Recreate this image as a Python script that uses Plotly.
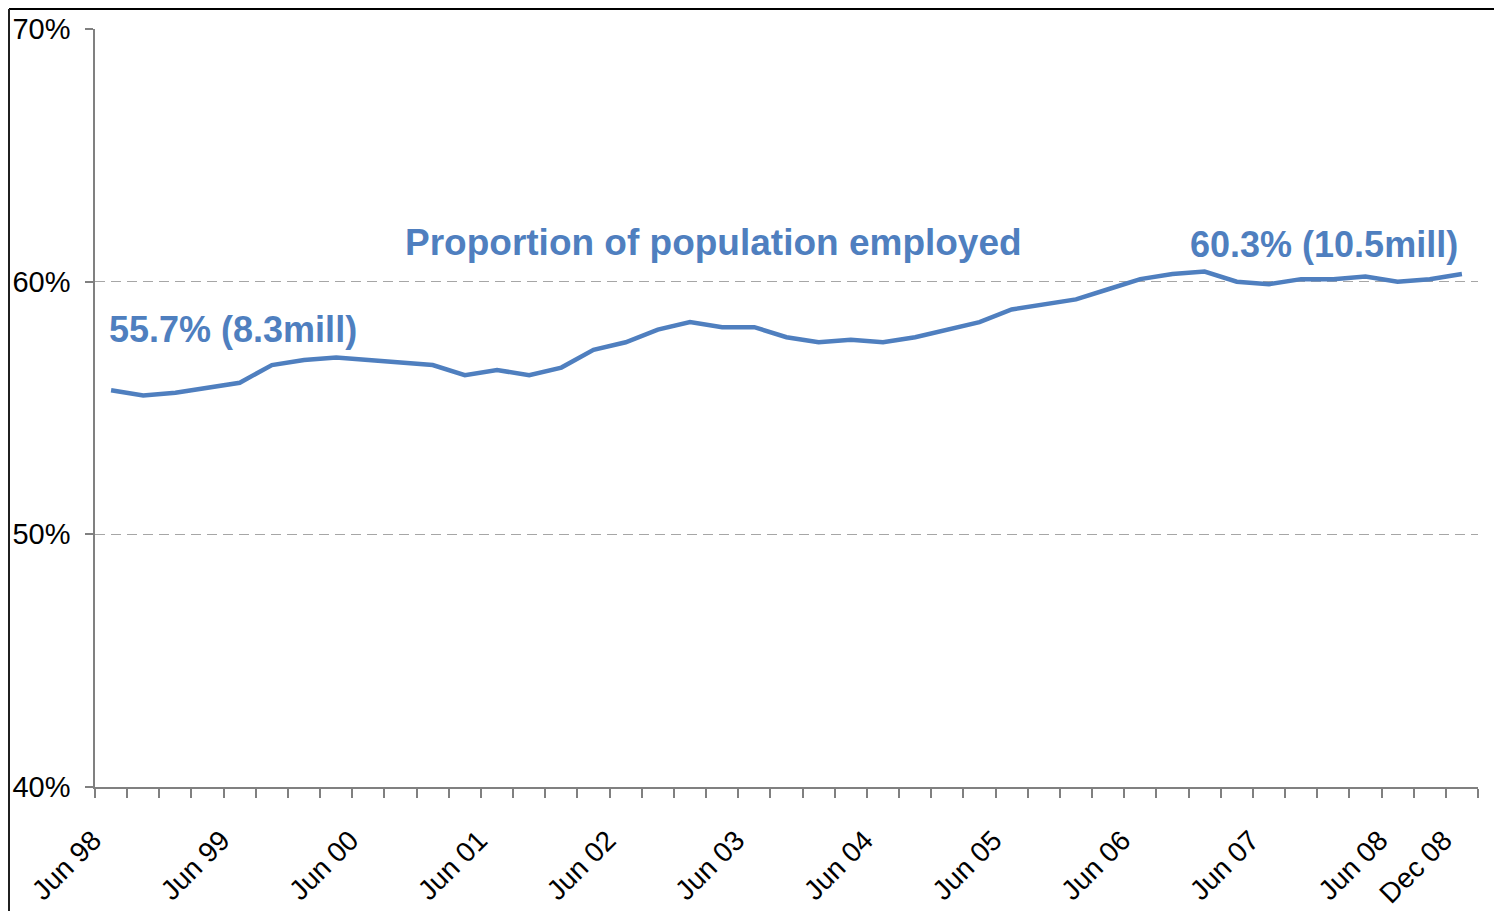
import plotly.graph_objects as go

# ---- data ----
quarters = []
for yr in range(1998, 2009):
    for mo in ["Mar", "Jun", "Sep", "Dec"]:
        quarters.append(f"{mo} {str(yr)[2:]}")
quarters = quarters[1:]  # Jun 98 .. Dec 08 (43 quarters)

employment_rate = [
    55.7, 55.5, 55.6, 55.8, 56.0, 56.7, 56.9, 57.0, 56.9, 56.8,
    56.7, 56.3, 56.5, 56.3, 56.6, 57.3, 57.6, 58.1, 58.4, 58.2,
    58.2, 57.8, 57.6, 57.7, 57.6, 57.8, 58.1, 58.4, 58.9, 59.1,
    59.3, 59.7, 60.1, 60.3, 60.4, 60.0, 59.9, 60.1, 60.1, 60.2,
    60.0, 60.1, 60.3,
]

tick_labels = ["Jun 98", "Jun 99", "Jun 00", "Jun 01", "Jun 02", "Jun 03",
               "Jun 04", "Jun 05", "Jun 06", "Jun 07", "Jun 08", "Dec 08"]
tick_idx = [quarters.index(t) for t in tick_labels]
x_idx = list(range(len(quarters)))

BLUE = "#4F7FBF"
AXIS = "#808080"
FONT = "Liberation Sans, Arial, sans-serif"

# the page body has an 8px margin, so the figure is sized to fit beside it
OFF = 8
W, H = 1502 - OFF, 911 - OFF
L, R, T, B = 95 - OFF, 24, 29 - OFF, 124

def px_x(p):
    return (p - OFF - L) / (W - L - R)

def px_y(p):
    return (H - B - (p - OFF)) / (H - T - B)

fig = go.Figure()
fig.add_trace(go.Scatter(
    x=x_idx, y=employment_rate, mode="lines",
    line=dict(color=BLUE, width=4.5),
    customdata=quarters, hovertemplate="%{customdata}: %{y:.1f}%<extra></extra>",
    showlegend=False,
))

fig.update_layout(
    width=W, height=H,
    margin=dict(l=L, r=R, t=T, b=B, autoexpand=False),
    paper_bgcolor="white", plot_bgcolor="white",
    font=dict(family=FONT, size=28, color="black"),
    showlegend=False,
)

fig.update_xaxes(
    range=[-0.5, len(quarters) - 0.5], automargin=False,
    tickmode="array", tickvals=tick_idx, ticktext=tick_labels,
    tickangle=-45, ticks="", showgrid=False, zeroline=False,
    showline=True, linecolor=AXIS, linewidth=1.5,
    ticklabelshift=-18, ticklabelstandoff=24,
    tickfont=dict(size=28, family=FONT, color="black"),
    minor=dict(tickmode="array", tickvals=[i - 0.5 for i in range(len(quarters) + 1)],
               ticks="outside", ticklen=9, tickcolor=AXIS, tickwidth=1.5, showgrid=False),
)

fig.update_yaxes(
    range=[40, 70], automargin=False, tickmode="array", tickvals=[40, 50, 60, 70],
    ticktext=["40%", "50%", "60%", "70%"],
    ticks="outside", ticklen=8, tickcolor=AXIS, tickwidth=1.5,
    showline=True, linecolor=AXIS, linewidth=1.5,
    showgrid=True, gridcolor="#A6A6A6", griddash="10px,6px", gridwidth=1,
    zeroline=False, ticklabelstandoff=9,
    tickfont=dict(size=29, family=FONT, color="black"),
)

fig.add_annotation(x=-0.12, y=58.1, xref="x", yref="y", text="<b>55.7% (8.3mill)</b>",
                   showarrow=False, xanchor="left", yanchor="middle",
                   font=dict(size=36, color=BLUE, family=FONT))
fig.add_annotation(x=18.72, y=61.54, xref="x", yref="y",
                   text="<b>Proportion of population employed</b>",
                   showarrow=False, xanchor="center", yanchor="middle",
                   font=dict(size=37, color=BLUE, family=FONT))
fig.add_annotation(x=41.95, y=61.47, xref="x", yref="y", text="<b>60.3% (10.5mill)</b>",
                   showarrow=False, xanchor="right", yanchor="middle",
                   font=dict(size=36, color=BLUE, family=FONT))

# outer chart frame
fig.add_shape(type="line", xref="paper", yref="paper",
              x0=px_x(OFF + 1), x1=px_x(1501), y0=px_y(OFF + 1), y1=px_y(OFF + 1),
              line=dict(color="black", width=2))
fig.add_shape(type="line", xref="paper", yref="paper",
              x0=px_x(OFF + 1), x1=px_x(OFF + 1), y0=px_y(OFF + 1), y1=px_y(915),
              line=dict(color="#202020", width=2))
fig.add_shape(type="line", xref="paper", yref="paper",
              x0=px_x(1500), x1=px_x(1500), y0=px_y(OFF + 1), y1=px_y(915),
              line=dict(color="#909090", width=2))

fig.write_html("out.html")
